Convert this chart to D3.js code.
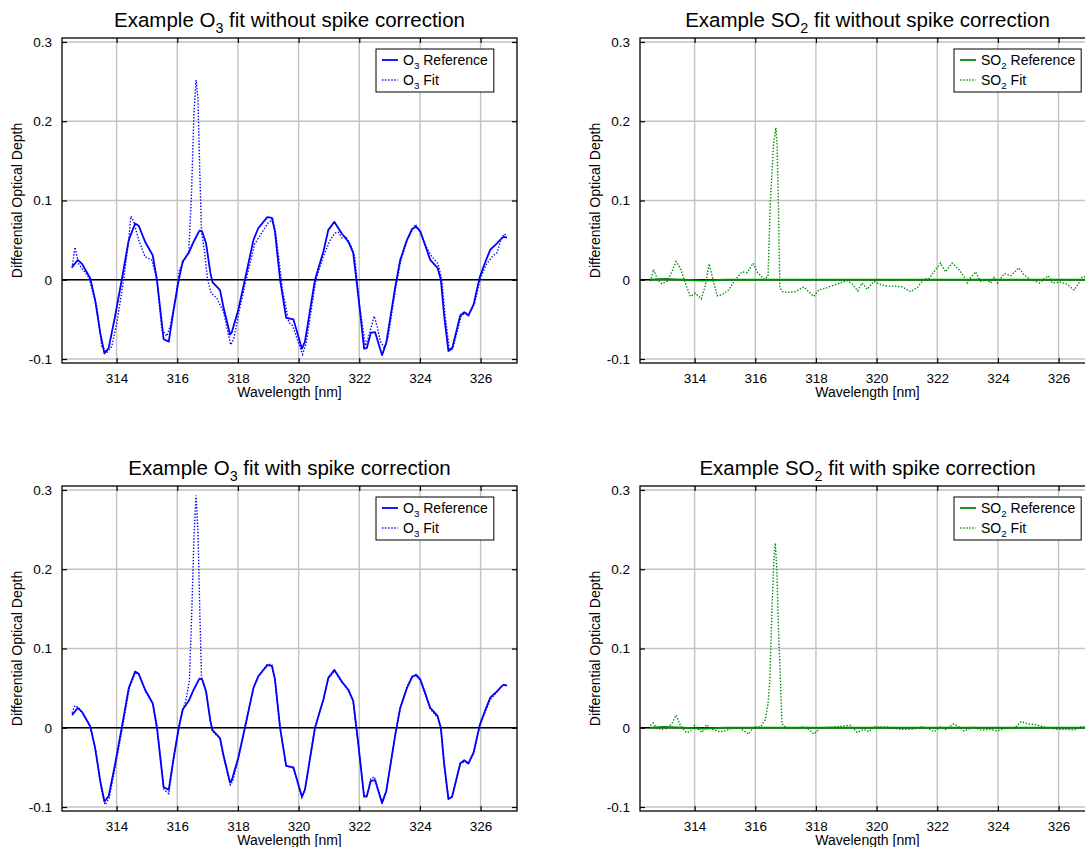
<!DOCTYPE html>
<html>
<head>
<meta charset="utf-8">
<script src="https://cdn.jsdelivr.net/npm/d3@7"></script>
<style>
  body { margin: 0; background: #fff; }
  svg { font-family: "Liberation Sans", Arial, Helvetica, sans-serif; }
</style>
</head>
<body>
<svg id="chart" width="1085" height="847"></svg>
<script>
// wavelength [nm], differential optical depth
var o3Reference = [
  [312.53,0.016],[312.72,0.025],[312.86,0.020],[313.13,0.002],[313.29,-0.025],[313.46,-0.067],[313.60,-0.093],
  [313.74,-0.086],[313.95,-0.046],[314.17,0.000],[314.40,0.050],[314.61,0.071],[314.73,0.068],[314.94,0.048],
  [315.19,0.031],[315.33,0.000],[315.55,-0.075],[315.72,-0.078],[315.88,-0.038],[316.05,0.000],[316.18,0.023],
  [316.38,0.034],[316.54,0.048],[316.73,0.062],[316.82,0.061],[316.95,0.046],[317.09,0.009],[317.16,-0.003],
  [317.41,-0.013],[317.52,-0.034],[317.74,-0.069],[317.80,-0.066],[318.01,-0.038],[318.23,0.000],[318.51,0.050],
  [318.67,0.065],[318.97,0.079],[319.12,0.078],[319.22,0.061],[319.39,0.000],[319.59,-0.048],[319.83,-0.050],
  [320.11,-0.087],[320.21,-0.078],[320.54,0.000],[320.82,0.036],[320.98,0.063],[321.18,0.073],[321.43,0.058],
  [321.64,0.048],[321.80,0.034],[321.97,-0.021],[322.16,-0.087],[322.25,-0.086],[322.38,-0.067],[322.52,-0.066],
  [322.75,-0.095],[322.89,-0.080],[323.19,-0.008],[323.35,0.025],[323.57,0.050],[323.74,0.064],[323.87,0.067],
  [324.01,0.061],[324.17,0.044],[324.34,0.025],[324.58,0.015],[324.69,0.000],[324.80,-0.046],[324.94,-0.090],
  [325.06,-0.087],[325.33,-0.045],[325.46,-0.041],[325.60,-0.045],[325.77,-0.031],[325.97,0.003],[326.16,0.023],
  [326.32,0.038],[326.54,0.046],[326.71,0.053],[326.78,0.054],[326.87,0.053]
];

var o3FitRaw = [
  [312.53,0.015],[312.63,0.041],[312.75,0.020],[313.08,0.003],[313.35,-0.034],[313.51,-0.084],[313.68,-0.092],
  [313.84,-0.084],[314.01,-0.054],[314.22,-0.003],[314.40,0.050],[314.47,0.080],[314.56,0.074],[314.73,0.050],
  [314.94,0.029],[315.16,0.025],[315.33,0.000],[315.49,-0.063],[315.66,-0.071],[315.77,-0.058],[315.94,-0.024],
  [316.07,0.013],[316.21,0.023],[316.38,0.036],[316.47,0.110],[316.55,0.210],[316.62,0.252],[316.68,0.230],
  [316.74,0.140],[316.80,0.060],[316.90,0.035],[317.00,0.000],[317.12,-0.017],[317.30,-0.023],[317.52,-0.040],
  [317.76,-0.082],[317.86,-0.075],[318.05,-0.038],[318.27,0.000],[318.55,0.045],[318.78,0.059],[319.00,0.072],
  [319.15,0.076],[319.25,0.058],[319.47,-0.013],[319.68,-0.054],[319.80,-0.058],[320.13,-0.094],[320.25,-0.080],
  [320.57,0.000],[320.82,0.030],[321.04,0.050],[321.20,0.059],[321.31,0.060],[321.43,0.053],[321.55,0.055],
  [321.70,0.045],[321.85,0.030],[322.00,-0.030],[322.20,-0.083],[322.30,-0.073],[322.49,-0.046],[322.60,-0.060],
  [322.69,-0.077],[322.82,-0.086],[322.95,-0.072],[323.22,-0.006],[323.38,0.026],[323.60,0.052],[323.85,0.070],
  [324.02,0.060],[324.20,0.042],[324.38,0.030],[324.60,0.020],[324.72,0.000],[324.83,-0.045],[324.97,-0.088],
  [325.10,-0.084],[325.36,-0.046],[325.48,-0.042],[325.62,-0.043],[325.80,-0.030],[326.00,0.003],[326.20,0.020],
  [326.40,0.030],[326.54,0.034],[326.65,0.048],[326.78,0.058],[326.87,0.055]
];

var o3FitCorrected = [
  [312.53,0.019],[312.63,0.028],[312.75,0.025],[312.88,0.018],[313.13,0.002],[313.32,-0.030],[313.50,-0.078],
  [313.62,-0.097],[313.76,-0.088],[313.97,-0.046],[314.19,0.000],[314.42,0.050],[314.62,0.070],[314.75,0.066],
  [314.95,0.046],[315.20,0.030],[315.34,0.000],[315.56,-0.078],[315.72,-0.083],[315.88,-0.040],[316.05,0.000],
  [316.18,0.022],[316.29,0.035],[316.40,0.060],[316.47,0.136],[316.55,0.240],[316.62,0.293],[316.68,0.250],
  [316.75,0.136],[316.80,0.064],[316.95,0.045],[317.09,0.008],[317.16,-0.004],[317.41,-0.014],[317.52,-0.036],
  [317.75,-0.072],[317.82,-0.068],[318.02,-0.038],[318.23,0.000],[318.51,0.050],[318.67,0.064],[318.97,0.080],
  [319.12,0.080],[319.22,0.062],[319.39,0.000],[319.59,-0.048],[319.83,-0.051],[320.11,-0.088],[320.21,-0.078],
  [320.54,0.000],[320.82,0.036],[320.98,0.062],[321.18,0.072],[321.43,0.057],[321.64,0.047],[321.80,0.033],
  [321.97,-0.022],[322.16,-0.087],[322.25,-0.087],[322.38,-0.064],[322.50,-0.062],[322.75,-0.094],[322.89,-0.080],
  [323.19,-0.008],[323.35,0.025],[323.57,0.051],[323.74,0.065],[323.87,0.066],[324.01,0.060],[324.17,0.043],
  [324.34,0.024],[324.58,0.013],[324.69,-0.002],[324.80,-0.047],[324.94,-0.090],[325.06,-0.087],[325.33,-0.045],
  [325.46,-0.043],[325.60,-0.045],[325.77,-0.032],[325.97,0.002],[326.16,0.021],[326.32,0.036],[326.54,0.045],
  [326.71,0.053],[326.78,0.055],[326.87,0.053]
];

var so2Reference = [
  [312.53,0.000],[313.00,0.001],[313.60,0.000],[314.30,-0.001],[315.00,0.000],[316.00,0.000],[318.00,0.000],
  [320.00,0.000],[322.00,0.000],[324.00,0.000],[326.90,0.000]
];

var so2FitRaw = [
  [312.54,-0.002],[312.65,0.013],[312.78,0.000],[312.92,-0.005],[313.09,-0.002],[313.25,0.010],[313.39,0.023],
  [313.53,0.015],[313.69,-0.004],[313.86,-0.021],[314.02,-0.017],[314.22,-0.024],[314.35,-0.008],[314.48,0.020],
  [314.61,0.000],[314.74,-0.020],[314.90,-0.019],[315.12,-0.013],[315.34,0.000],[315.56,0.010],[315.73,0.009],
  [315.93,0.021],[316.06,0.010],[316.28,0.001],[316.42,0.004],[316.50,0.100],[316.60,0.170],[316.68,0.192],
  [316.72,0.170],[316.76,0.100],[316.81,-0.010],[316.90,-0.015],[317.05,-0.016],[317.32,-0.015],[317.60,-0.009],
  [317.76,-0.015],[317.93,-0.021],[318.09,-0.013],[318.37,-0.010],[318.64,-0.006],[319.03,-0.001],[319.19,-0.005],
  [319.38,-0.014],[319.52,-0.004],[319.69,-0.012],[319.91,-0.002],[320.13,-0.006],[320.35,-0.008],[320.57,-0.008],
  [320.84,-0.009],[321.12,-0.015],[321.34,-0.010],[321.56,0.001],[321.72,0.001],[321.89,0.010],[322.11,0.021],
  [322.27,0.010],[322.49,0.021],[322.71,0.013],[322.88,0.004],[322.99,-0.004],[323.12,0.004],[323.26,0.010],
  [323.43,-0.002],[323.63,0.000],[323.76,-0.004],[323.87,0.003],[323.98,-0.004],[324.22,0.008],[324.42,0.005],
  [324.69,0.015],[324.86,0.006],[325.08,0.000],[325.24,-0.002],[325.38,-0.004],[325.52,0.001],[325.66,0.005],
  [325.79,-0.004],[326.07,-0.003],[326.29,-0.006],[326.51,-0.013],[326.67,-0.004],[326.78,0.004],[326.89,0.004]
];

var so2FitCorrected = [
  [312.54,0.003],[312.63,0.006],[312.76,-0.001],[312.92,-0.002],[313.09,-0.001],[313.25,0.005],[313.39,0.016],
  [313.53,0.003],[313.72,-0.006],[313.86,-0.005],[314.00,0.003],[314.13,-0.002],[314.24,-0.006],[314.39,0.004],
  [314.57,-0.002],[314.85,-0.005],[315.07,-0.003],[315.29,0.000],[315.51,-0.001],[315.78,-0.008],[315.95,0.001],
  [316.17,0.001],[316.33,0.010],[316.42,0.030],[316.48,0.060],[316.55,0.150],[316.62,0.215],[316.66,0.233],
  [316.71,0.200],[316.77,0.120],[316.83,0.060],[316.88,0.005],[317.05,-0.001],[317.38,-0.001],[317.54,0.001],
  [317.76,-0.002],[317.93,-0.008],[318.15,0.000],[318.59,0.001],[319.14,0.003],[319.36,-0.006],[319.58,-0.002],
  [319.74,-0.005],[319.91,0.001],[320.35,0.001],[320.79,-0.002],[321.17,-0.002],[321.45,0.001],[321.67,0.000],
  [321.89,-0.005],[322.11,0.001],[322.27,-0.002],[322.55,0.005],[322.71,0.001],[322.88,-0.004],[323.21,0.001],
  [323.43,-0.003],[323.76,-0.002],[323.98,-0.004],[324.20,-0.001],[324.53,-0.001],[324.77,0.008],[324.97,0.005],
  [325.24,0.004],[325.63,0.000],[325.96,-0.002],[326.29,-0.002],[326.51,-0.003],[326.73,0.001],[326.89,0.001]
];

var xTicks = [314, 316, 318, 320, 322, 324, 326];
var yTicks = [-0.1, 0, 0.1, 0.2, 0.3];
var xDomain = [312.2, 327.2];
var yDomain = [-0.105, 0.305];

var svg = d3.select("#chart");
var pw = 455, ph = 325;

function sub_text(sel, parts, size) {
  // parts: [plain, subscript, plain]
  sel.text(parts[0]);
  sel.append("tspan").attr("font-size", size * 0.7).attr("dy", size * 0.28).text(parts[1]);
  sel.append("tspan").attr("dy", -size * 0.28).text(parts[2]);
}

function draw_panel(left, top, title, series, legendLabels, color, id) {
  var g = svg.append("g").attr("transform", "translate(" + left + "," + top + ")");
  var x = d3.scaleLinear().domain(xDomain).range([0, pw]);
  var y = d3.scaleLinear().domain(yDomain).range([ph, 0]);

  g.append("clipPath").attr("id", "clip" + id)
    .append("rect").attr("width", pw).attr("height", ph);

  // grid
  g.selectAll(".vgrid").data(xTicks).enter().append("line")
    .attr("x1", d => x(d)).attr("x2", d => x(d)).attr("y1", 0).attr("y2", ph)
    .attr("stroke", "#c2c2c2").attr("stroke-width", 1.4);
  g.selectAll(".hgrid").data(yTicks).enter().append("line")
    .attr("y1", d => y(d)).attr("y2", d => y(d)).attr("x1", 0).attr("x2", pw)
    .attr("stroke", "#c2c2c2").attr("stroke-width", 1.4);

  // zero line
  g.append("line").attr("x1", 0).attr("x2", pw).attr("y1", y(0)).attr("y2", y(0))
    .attr("stroke", "#000").attr("stroke-width", 1.5);

  var line = d3.line().x(d => x(d[0])).y(d => y(d[1]));
  var plot = g.append("g").attr("clip-path", "url(#clip" + id + ")");
  plot.append("path").datum(series[0]).attr("d", line)
    .attr("fill", "none").attr("stroke", color).attr("stroke-width", 1.8)
    .attr("stroke-linejoin", "round");
  plot.append("path").datum(series[1]).attr("d", line)
    .attr("fill", "none").attr("stroke", color).attr("stroke-width", 1.4)
    .attr("stroke-dasharray", "1.4,1.7");

  // axes, ticks pointing inward
  var yfmt = d => String(Math.round(d * 10) / 10);
  g.append("g").attr("transform", "translate(0," + ph + ")")
    .call(d3.axisBottom(x).tickValues(xTicks).tickSize(-5).tickPadding(10).tickFormat(d3.format("d")));
  g.append("g")
    .call(d3.axisLeft(y).tickValues(yTicks).tickSize(-5).tickPadding(10).tickFormat(yfmt));
  g.append("g").call(d3.axisTop(x).tickValues(xTicks).tickSize(-5).tickFormat(""));
  g.append("g").attr("transform", "translate(" + pw + ",0)")
    .call(d3.axisRight(y).tickValues(yTicks).tickSize(-5).tickFormat(""));
  g.selectAll(".domain").remove();
  g.selectAll(".tick line").attr("stroke", "#000").attr("stroke-width", 1.2);
  g.selectAll(".tick text").attr("font-size", 13.5).attr("fill", "#000")
    .attr("font-family", "Liberation Sans, Arial, sans-serif");

  g.append("rect").attr("width", pw).attr("height", ph)
    .attr("fill", "none").attr("stroke", "#000").attr("stroke-width", 1.3);

  // title and labels
  g.append("text").attr("x", pw / 2).attr("y", -11).attr("text-anchor", "middle")
    .attr("font-size", 20.5).call(sub_text, title, 20.5);
  g.append("text").attr("x", pw / 2).attr("y", ph + 34).attr("text-anchor", "middle")
    .attr("font-size", 14).text("Wavelength [nm]");
  g.append("text").attr("transform", "translate(-40," + (ph / 2) + ") rotate(-90)")
    .attr("text-anchor", "middle").attr("font-size", 14).text("Differential Optical Depth");

  // legend
  var lg = g.append("g").attr("transform", "translate(" + 314 + ",11)");
  var box = lg.append("rect").attr("height", 43).attr("fill", "#fff")
    .attr("stroke", "#000").attr("stroke-width", 1);
  var maxw = 0;
  legendLabels.forEach(function(lab, i) {
    var yy = 11 + i * 20;
    lg.append("line").attr("x1", 6).attr("x2", 22).attr("y1", yy).attr("y2", yy)
      .attr("stroke", color).attr("stroke-width", i === 0 ? 1.8 : 1.4)
      .attr("stroke-dasharray", i === 0 ? null : "1.4,1.7");
    var t = lg.append("text").attr("x", 27).attr("y", yy).attr("dy", "0.35em")
      .attr("font-size", 14).call(sub_text, lab, 14);
    maxw = Math.max(maxw, t.node().getComputedTextLength());
  });
  box.attr("width", 27 + maxw + 6);
}

draw_panel(62, 38, ["Example O", "3", " fit without spike correction"], [o3Reference, o3FitRaw],
  [["O", "3", " Reference"], ["O", "3", " Fit"]], "#0000ff", 1);
draw_panel(640, 38, ["Example SO", "2", " fit without spike correction"], [so2Reference, so2FitRaw],
  [["SO", "2", " Reference"], ["SO", "2", " Fit"]], "#008c00", 2);
draw_panel(62, 486, ["Example O", "3", " fit with spike correction"], [o3Reference, o3FitCorrected],
  [["O", "3", " Reference"], ["O", "3", " Fit"]], "#0000ff", 3);
draw_panel(640, 486, ["Example SO", "2", " fit with spike correction"], [so2Reference, so2FitCorrected],
  [["SO", "2", " Reference"], ["SO", "2", " Fit"]], "#008c00", 4);
</script>
</body>
</html>
